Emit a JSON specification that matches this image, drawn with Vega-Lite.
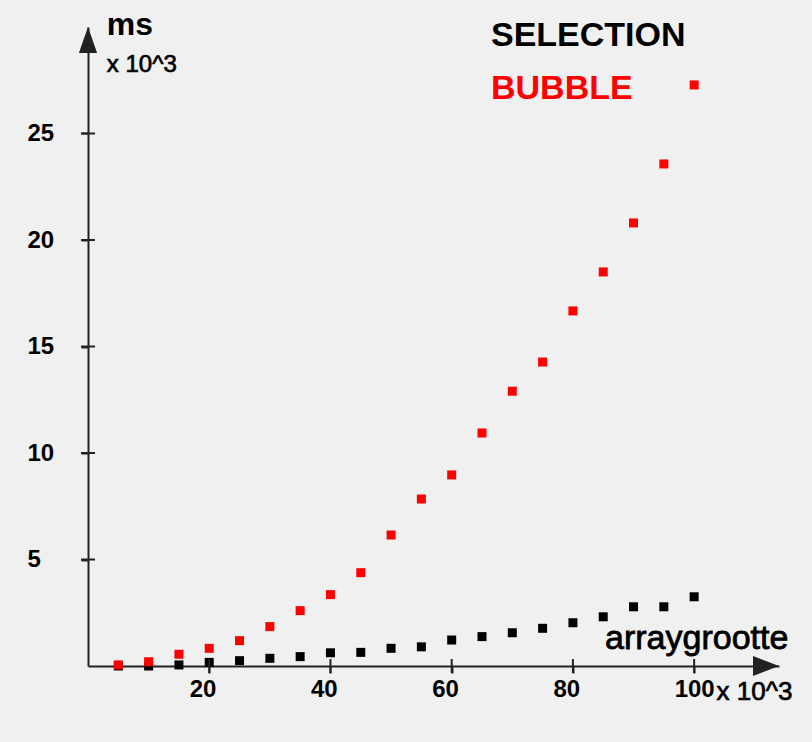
{
  "$schema": "https://vega.github.io/schema/vega-lite/v6.json",
  "autosize": {"type": "none"},
  "width": 691,
  "height": 639,
  "padding": {"left": 88, "top": 27, "right": 33, "bottom": 76},
  "background": "#f0f0f0",
  "config": {
    "view": {"stroke": null},
    "font": "Liberation Sans"
  },
  "datasets": {
    "timings": [
      {"n": 5, "ms": 0.0, "algo": "SELECTION"},
      {"n": 10, "ms": 0.0, "algo": "SELECTION"},
      {"n": 15, "ms": 0.05, "algo": "SELECTION"},
      {"n": 20, "ms": 0.17, "algo": "SELECTION"},
      {"n": 25, "ms": 0.25, "algo": "SELECTION"},
      {"n": 30, "ms": 0.36, "algo": "SELECTION"},
      {"n": 35, "ms": 0.44, "algo": "SELECTION"},
      {"n": 40, "ms": 0.62, "algo": "SELECTION"},
      {"n": 45, "ms": 0.64, "algo": "SELECTION"},
      {"n": 50, "ms": 0.83, "algo": "SELECTION"},
      {"n": 55, "ms": 0.9, "algo": "SELECTION"},
      {"n": 60, "ms": 1.22, "algo": "SELECTION"},
      {"n": 65, "ms": 1.38, "algo": "SELECTION"},
      {"n": 70, "ms": 1.56, "algo": "SELECTION"},
      {"n": 75, "ms": 1.77, "algo": "SELECTION"},
      {"n": 80, "ms": 2.03, "algo": "SELECTION"},
      {"n": 85, "ms": 2.31, "algo": "SELECTION"},
      {"n": 90, "ms": 2.78, "algo": "SELECTION"},
      {"n": 95, "ms": 2.78, "algo": "SELECTION"},
      {"n": 100, "ms": 3.25, "algo": "SELECTION"},
      {"n": 5, "ms": 0.05, "algo": "BUBBLE"},
      {"n": 10, "ms": 0.2, "algo": "BUBBLE"},
      {"n": 15, "ms": 0.55, "algo": "BUBBLE"},
      {"n": 20, "ms": 0.83, "algo": "BUBBLE"},
      {"n": 25, "ms": 1.19, "algo": "BUBBLE"},
      {"n": 30, "ms": 1.85, "algo": "BUBBLE"},
      {"n": 35, "ms": 2.6, "algo": "BUBBLE"},
      {"n": 40, "ms": 3.35, "algo": "BUBBLE"},
      {"n": 45, "ms": 4.38, "algo": "BUBBLE"},
      {"n": 50, "ms": 6.15, "algo": "BUBBLE"},
      {"n": 55, "ms": 7.84, "algo": "BUBBLE"},
      {"n": 60, "ms": 8.97, "algo": "BUBBLE"},
      {"n": 65, "ms": 10.94, "algo": "BUBBLE"},
      {"n": 70, "ms": 12.9, "algo": "BUBBLE"},
      {"n": 75, "ms": 14.27, "algo": "BUBBLE"},
      {"n": 80, "ms": 16.67, "algo": "BUBBLE"},
      {"n": 85, "ms": 18.5, "algo": "BUBBLE"},
      {"n": 90, "ms": 20.8, "algo": "BUBBLE"},
      {"n": 95, "ms": 23.57, "algo": "BUBBLE"},
      {"n": 100, "ms": 27.28, "algo": "BUBBLE"}
    ],
    "xticks": [{"tick": 20}, {"tick": 40}, {"tick": 60}, {"tick": 80}, {"tick": 100}],
    "yticks": [{"tick": 5}, {"tick": 10}, {"tick": 15}, {"tick": 20}, {"tick": 25}],
    "one": [{}]
  },
  "layer": [
    {
      "data": {"name": "timings"},
      "mark": {"type": "point", "shape": "square", "filled": true, "size": 81, "opacity": 1},
      "encoding": {
        "x": {
          "field": "n", "type": "quantitative", "title": null,
          "scale": {"domain": [0, 114], "nice": false, "zero": true},
          "axis": {
            "title": null,
            "values": [20, 40, 60, 80, 100],
            "grid": false,
            "domainColor": "#222222", "domainWidth": 2,
            "tickColor": "#222222", "tickWidth": 2, "tickSize": 7,
            "labelFont": "Liberation Sans", "labelFontSize": 24, "labelFontWeight": "bold",
            "labelColor": "#000000",
            "labelAlign": "left", "labelOffset": -20, "labelPadding": 4, "labelBaseline": "top"
          }
        },
        "y": {
          "field": "ms", "type": "quantitative", "title": null,
          "scale": {"domain": [0, 30], "nice": false, "zero": true},
          "axis": {
            "title": null,
            "values": [5, 10, 15, 20, 25],
            "grid": false,
            "domainColor": "#222222", "domainWidth": 2,
            "tickColor": "#222222", "tickWidth": 2, "tickSize": 7,
            "labelFont": "Liberation Sans", "labelFontSize": 24, "labelFontWeight": "bold",
            "labelColor": "#000000",
            "labelAlign": "left", "labelPadding": 54, "labelBaseline": "middle"
          }
        },
        "color": {
          "field": "algo", "type": "nominal",
          "scale": {"domain": ["SELECTION", "BUBBLE"], "range": ["#000000", "#ff0000"]},
          "legend": {
            "title": null,
            "orient": "none",
            "legendX": 369,
            "legendY": -8,
            "padding": 0,
            "symbolSize": 0,
            "symbolStrokeWidth": 0,
            "symbolOpacity": 0,
            "labelOffset": 0,
            "labelFont": "Liberation Sans",
            "labelFontSize": 34,
            "labelFontWeight": "bold",
            "labelLimit": 400,
            "rowPadding": 19,
            "encode": {"labels": {"update": {"fill": {"signal": "datum.value === 'BUBBLE' ? '#ff0000' : '#000000'"}}}}
          }
        }
      }
    },
    {
      "data": {"name": "xticks"},
      "mark": {"type": "tick", "orient": "vertical", "size": 14, "thickness": 2, "color": "#222222", "opacity": 1},
      "encoding": {
        "x": {"field": "tick", "type": "quantitative", "title": null},
        "y": {"datum": 0, "type": "quantitative"}
      }
    },
    {
      "data": {"name": "yticks"},
      "mark": {"type": "tick", "orient": "horizontal", "size": 14, "thickness": 2, "color": "#222222", "opacity": 1},
      "encoding": {
        "y": {"field": "tick", "type": "quantitative", "title": null},
        "x": {"datum": 0, "type": "quantitative"}
      }
    },
    {
      "data": {"name": "one"},
      "mark": {"type": "point", "shape": "M0,0L-0.35,1L0.35,1Z", "filled": true, "size": 2704, "color": "#222222", "opacity": 1},
      "encoding": {"x": {"datum": 0, "type": "quantitative"}, "y": {"datum": 30, "type": "quantitative"}}
    },
    {
      "data": {"name": "one"},
      "mark": {"type": "point", "shape": "M0,0L-1,-0.38L-1,0.38Z", "filled": true, "size": 2704, "color": "#222222", "opacity": 1},
      "encoding": {"x": {"datum": 114, "type": "quantitative"}, "y": {"datum": 0, "type": "quantitative"}}
    },
    {
      "data": {"name": "one"},
      "mark": {"type": "text", "text": "ms", "font": "Liberation Sans", "fontSize": 32, "fontWeight": "bold", "align": "left", "baseline": "alphabetic", "color": "#000000"},
      "encoding": {"x": {"datum": 3.1, "type": "quantitative"}, "y": {"datum": 29.62, "type": "quantitative"}}
    },
    {
      "data": {"name": "one"},
      "mark": {"type": "text", "text": "x 10^3", "font": "Liberation Sans", "fontSize": 24, "align": "left", "baseline": "alphabetic", "fill": "#000000", "stroke": "#000000", "strokeWidth": 0.7},
      "encoding": {"x": {"datum": 3.1, "type": "quantitative"}, "y": {"datum": 27.89, "type": "quantitative"}}
    },
    {
      "data": {"name": "one"},
      "mark": {"type": "text", "text": "arraygrootte", "font": "Liberation Sans", "fontSize": 34, "align": "left", "baseline": "alphabetic", "fill": "#000000", "stroke": "#000000", "strokeWidth": 0.8},
      "encoding": {"x": {"datum": 85.3, "type": "quantitative"}, "y": {"datum": 0.8, "type": "quantitative"}}
    },
    {
      "data": {"name": "one"},
      "mark": {"type": "text", "text": "x 10^3", "font": "Liberation Sans", "fontSize": 26, "align": "left", "baseline": "alphabetic", "fill": "#000000", "stroke": "#000000", "strokeWidth": 0.7},
      "encoding": {"x": {"datum": 103.7, "type": "quantitative"}, "y": {"datum": -1.6, "type": "quantitative"}}
    }
  ]
}
